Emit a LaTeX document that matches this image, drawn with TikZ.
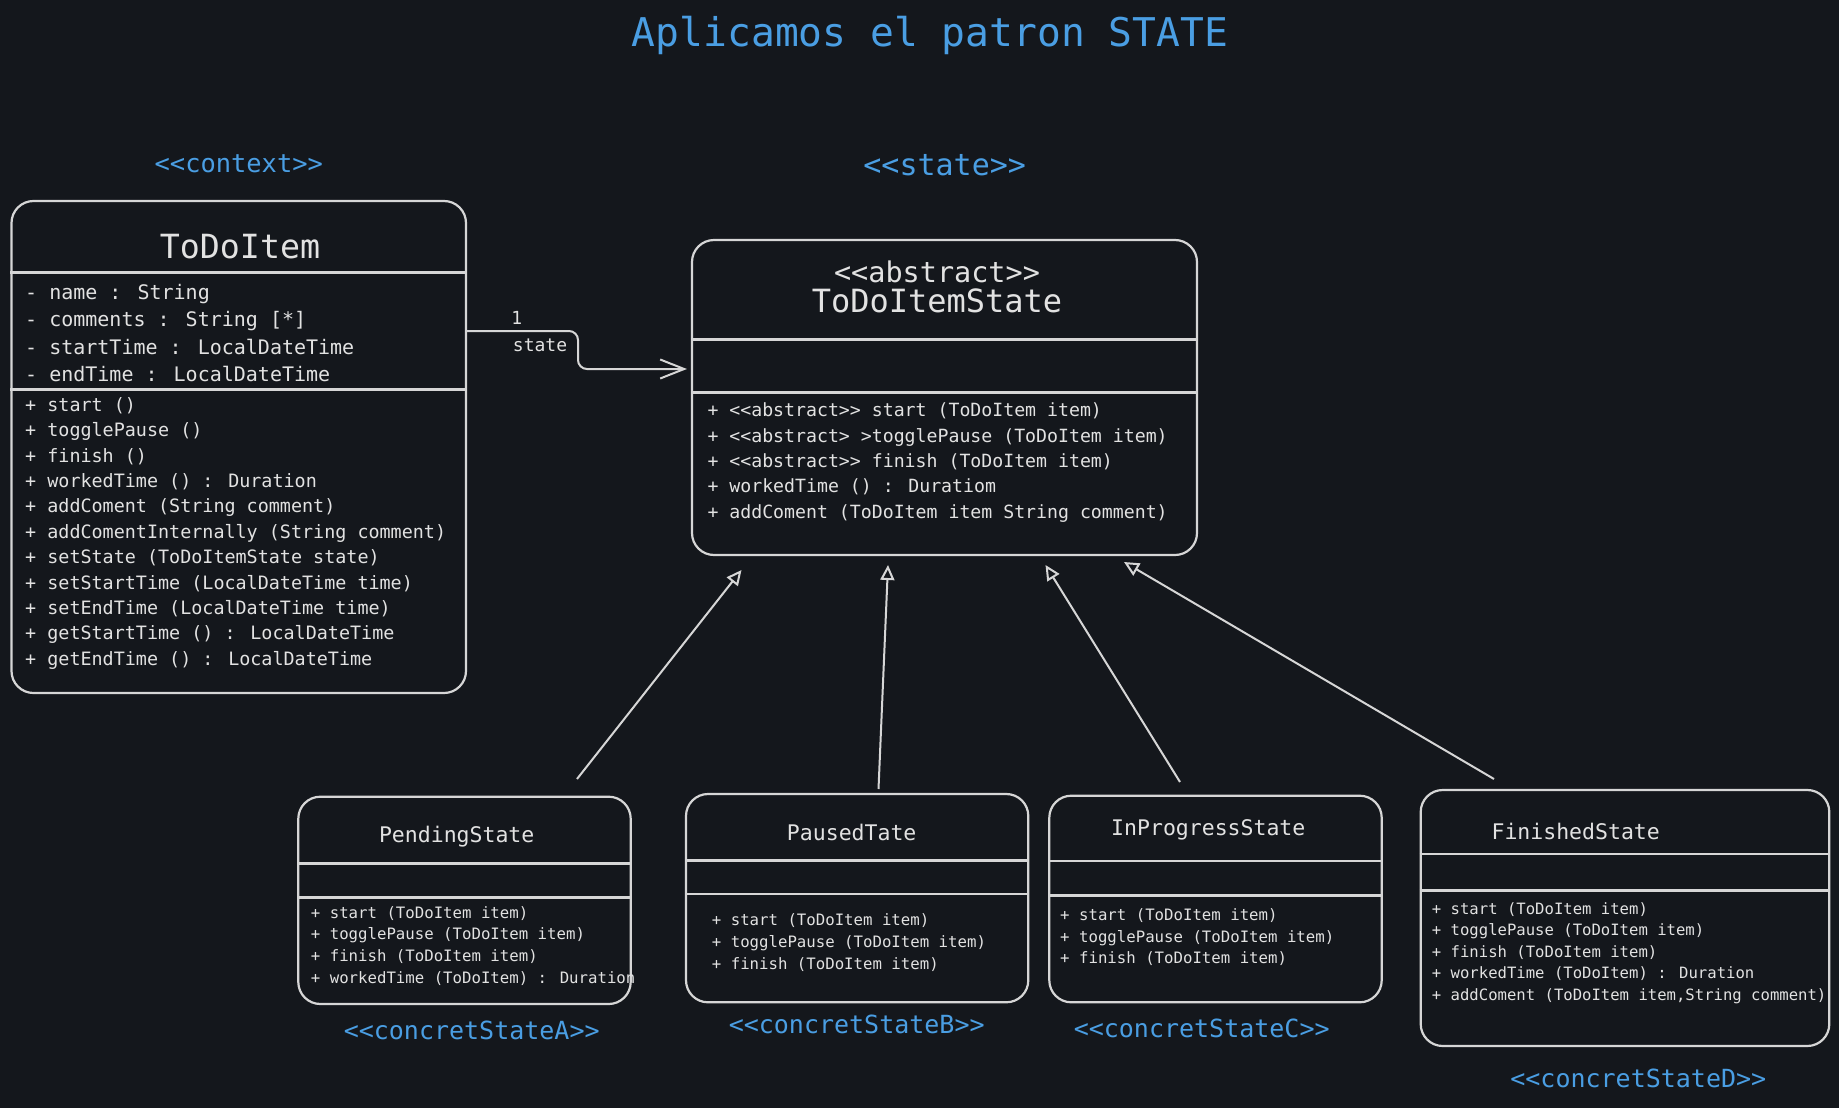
\documentclass[tikz,border=0pt]{standalone}
\usepackage{fontspec}
\setmainfont{DejaVu Sans Mono}[Ligatures=TeXOff]
\usetikzlibrary{arrows.meta}
\definecolor{bg}{HTML}{14171C}
\definecolor{ink}{HTML}{E2E2E2}
\definecolor{edge}{HTML}{D6D6D6}
\definecolor{sky}{HTML}{4A9EE3}
\newcommand\myfs[2]{\fontsize{#1}{#2}\selectfont}
\begin{document}
\begin{tikzpicture}[x=1pt,y=-1pt,
  box/.style={draw=edge, line width=2.2pt, rounded corners=22pt, fill=bg, inner sep=0pt},
  div/.style={draw=edge, line width=2.8pt},
  txt/.style={text=ink, inner sep=0pt, align=left, anchor=west},
  ttl/.style={text=ink, inner sep=0pt},
  lbl/.style={text=sky, inner sep=0pt},
  gen/.style={draw=edge, line width=2pt, -{Triangle[open, length=15pt, width=14pt, line width=2pt]}},
  assoc/.style={draw=edge, line width=2pt, rounded corners=9pt, -{Straight Barb[length=24pt, width=19pt, line width=2pt]}}
]
\fill[bg] (0,0) rectangle (1839,1108);
\useasboundingbox (0,0) rectangle (1839,1108);

% title and stereotype labels
\node[lbl, font=\myfs{39.6}{44}] (title) at (930,35) {Aplicamos el patron STATE};
\node[lbl, font=\myfs{25.4}{30}] (ctx) at (238.8,164) {<<context>>};
\node[lbl, font=\myfs{30}{34}] (stlbl) at (944.7,165) {<<state>>};

% ToDoItem
\node[box, minimum width=454.5pt, minimum height=492pt] (todo) at (238.75,447) {};
\draw[div] (todo.west |- 0,272.5) -- (todo.east |- 0,272.5);
\draw[div] (todo.west |- 0,389.5) -- (todo.east |- 0,389.5);
\node[ttl, font=\myfs{33.3}{38}] (todoT) at (240,246.7) {ToDoItem};
\node[txt, font=\myfs{20}{27.5}] (todoA) at (25,333) {- name : String\\- comments : String [*]\\- startTime : LocalDateTime\\- endTime : LocalDateTime};
\node[txt, font=\myfs{18.4}{25.35}] (todoM) at (25,533.3) {+ start ()\\+ togglePause ()\\+ finish ()\\+ workedTime () : Duration\\+ addComent (String comment)\\+ addComentInternally (String comment)\\+ setState (ToDoItemState state)\\+ setStartTime (LocalDateTime time)\\+ setEndTime (LocalDateTime time)\\+ getStartTime () : LocalDateTime\\+ getEndTime () : LocalDateTime};

% ToDoItemState
\node[box, minimum width=505pt, minimum height=315pt] (st) at (944.5,397.5) {};
\draw[div] (st.west |- 0,339.3) -- (st.east |- 0,339.3);
\draw[div] (st.west |- 0,392.3) -- (st.east |- 0,392.3);
\node[ttl, font=\myfs{28.5}{32}] (stA) at (937,272.3) {<<abstract>>};
\node[ttl, font=\myfs{32}{36}] (stT) at (937,300.7) {ToDoItemState};
\node[txt, font=\myfs{18.2}{25.4}] (stM) at (707.3,462.5) {+ <<abstract>> start (ToDoItem item)\\+ <<abstract> >togglePause (ToDoItem item)\\+ <<abstract>> finish (ToDoItem item)\\+ workedTime () : Duratiom\\+ addComent (ToDoItem item String comment)};

% association
\draw[assoc] (todo.east |- 0,331) -- (578,331) -- (578,369) -- ([xshift=-4pt]st.west |- 0,369);
\node[ttl, font=\myfs{18}{22}] (mult) at (516.7,318.3) {1};
\node[ttl, font=\myfs{18}{22}] (role) at (540,345) {state};

% PendingState
\node[box, minimum width=332.4pt, minimum height=207.3pt] (pend) at (464.5,900.35) {};
\draw[div] (pend.west |- 0,863.3) -- (pend.east |- 0,863.3);
\draw[div] (pend.west |- 0,897.3) -- (pend.east |- 0,897.3);
\node[ttl, font=\myfs{21.5}{26}] (pendT) at (456.7,836.7) {PendingState};
\node[txt, font=\myfs{15.7}{21.7}] (pendM) at (310.7,945.8) {+ start (ToDoItem item)\\+ togglePause (ToDoItem item)\\+ finish (ToDoItem item)\\+ workedTime (ToDoItem) : Duration};
\node[lbl, font=\myfs{25}{30}] (pendL) at (471.7,1030) {<<concretStateA>>};

% PausedTate
\node[box, minimum width=342.3pt, minimum height=208.3pt] (paus) at (857.15,898.15) {};
\draw[div] (paus.west |- 0,860.3) -- (paus.east |- 0,860.3);
\draw[div] (paus.west |- 0,894) -- (paus.east |- 0,894);
\node[ttl, font=\myfs{21.5}{26}] (pausT) at (851.7,832.7) {PausedTate};
\node[txt, font=\myfs{15.7}{21.7}] (pausM) at (711.7,942.7) {+ start (ToDoItem item)\\+ togglePause (ToDoItem item)\\+ finish (ToDoItem item)};
\node[lbl, font=\myfs{25}{30}] (pausL) at (856.7,1024.3) {<<concretStateB>>};

% InProgressState
\node[box, minimum width=332.4pt, minimum height=206.6pt] (prog) at (1215.5,899) {};
\draw[div] (prog.west |- 0,861) -- (prog.east |- 0,861);
\draw[div] (prog.west |- 0,895.7) -- (prog.east |- 0,895.7);
\node[ttl, font=\myfs{21.5}{26}] (progT) at (1208.3,830) {InProgressState};
\node[txt, font=\myfs{15.7}{21.7}] (progM) at (1060,937.3) {+ start (ToDoItem item)\\+ togglePause (ToDoItem item)\\+ finish (ToDoItem item)};
\node[lbl, font=\myfs{25}{30}] (progL) at (1201.7,1028.3) {<<concretStateC>>};

% FinishedState
\node[box, minimum width=408.6pt, minimum height=256pt] (fin) at (1625,918) {};
\draw[div] (fin.west |- 0,854) -- (fin.east |- 0,854);
\draw[div] (fin.west |- 0,890.7) -- (fin.east |- 0,890.7);
\node[ttl, font=\myfs{21.5}{26}] (finT) at (1575.7,831.7) {FinishedState};
\node[txt, font=\myfs{15.6}{21.5}] (finM) at (1431.7,953) {+ start (ToDoItem item)\\+ togglePause (ToDoItem item)\\+ finish (ToDoItem item)\\+ workedTime (ToDoItem) : Duration\\+ addComent (ToDoItem item,String comment)};
\node[lbl, font=\myfs{25}{30}] (finL) at (1638.3,1078.3) {<<concretStateD>>};

% generalization connectors
\coordinate (g1s) at (577,779);   \coordinate (g1e) at (741.5,570);
\coordinate (g2s) at (878.5,789); \coordinate (g2e) at (888,565);
\coordinate (g3s) at (1180,782);  \coordinate (g3e) at (1045.5,565);
\coordinate (g4s) at (1494,779);  \coordinate (g4e) at (1124,562);
\draw[gen] (g1s) -- (g1e);
\draw[gen] (g2s) -- (g2e);
\draw[gen] (g3s) -- (g3e);
\draw[gen] (g4s) -- (g4e);
\end{tikzpicture}
\end{document}
